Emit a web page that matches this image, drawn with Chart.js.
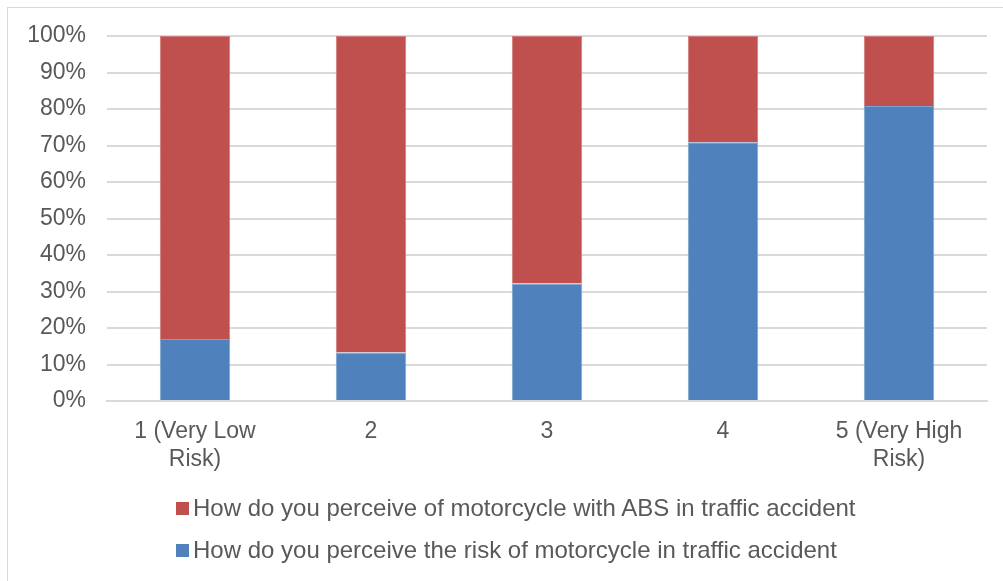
<!DOCTYPE html>
<html>
<head>
<meta charset="utf-8">
<script src="https://cdn.jsdelivr.net/npm/chart.js@4/dist/chart.umd.min.js"></script>
<style>
  html, body { margin: 0; padding: 0; background: #fff; }
  #wrap { position: relative; width: 1003px; height: 581px; overflow: hidden; }
  #frame { position: absolute; left: 7px; top: 7px; width: 1010px; height: 590px; border: 1px solid #d9d9d9; box-sizing: border-box; }
  canvas { position: absolute; left: 0; top: 0; }
  #legend { position: absolute; left: 176px; top: 493px; font-family: "Liberation Sans", Arial, sans-serif; font-size: 24px; color: #595959; }
  .item { display: flex; align-items: center; height: 30px; margin-bottom: 12px; white-space: nowrap; }
  .sw { width: 13px; height: 13px; margin-right: 4px; flex: none; }
</style>
</head>
<body>
<div id="wrap">
  <div id="frame"></div>
  <canvas id="c" width="1003" height="581"></canvas>
  <div id="legend"></div>
</div>
<script>
const categories = [["1 (Very Low", "Risk)"], "2", "3", "4", ["5 (Very High", "Risk)"]];
const riskValues = [17.0, 13.3, 32.2, 70.9, 80.8];
const absValues = [83.0, 86.7, 67.8, 29.1, 19.2];
const seriesNames = [
  "How do you perceive of motorcycle with ABS in traffic accident",
  "How do you perceive the risk of motorcycle in traffic accident"
];
const seriesColors = ["#C0504D", "#4F81BD"];
const yTicks = [0, 10, 20, 30, 40, 50, 60, 70, 80, 90, 100];

const font = { family: "'Liberation Sans', Arial, sans-serif", size: 23, lineHeight: 1.2 };

new Chart(document.getElementById('c'), {
  type: 'bar',
  data: {
    labels: categories,
    datasets: [
      { label: seriesNames[1], data: riskValues, backgroundColor: seriesColors[1], borderColor: '#7fa3d0', borderWidth: 1, barPercentage: 0.8, categoryPercentage: 0.5 },
      { label: seriesNames[0], data: absValues, backgroundColor: seriesColors[0], borderColor: '#d07c79', borderWidth: 1, barPercentage: 0.8, categoryPercentage: 0.5 }
    ]
  },
  options: {
    responsive: false,
    animation: false,
    layout: { padding: { left: 8, right: 16, top: 36, bottom: 110 } },
    plugins: { legend: { display: false }, tooltip: { enabled: false } },
    scales: {
      x: {
        stacked: true,
        grid: { display: false, drawTicks: false },
        border: { display: true, color: '#d9d9d9', width: 2 },
        ticks: { color: '#595959', font: font, padding: 17, maxRotation: 0, autoSkip: false },
        afterFit: s => { s.height = 70; }
      },
      y: {
        stacked: true,
        min: 0, max: 100,
        afterBuildTicks: s => { s.ticks = yTicks.map(v => ({ value: v })); },
        grid: { color: '#d9d9d9', lineWidth: 2, drawTicks: false },
        border: { display: false },
        ticks: { color: '#595959', font: font, padding: 21, callback: v => v + '%' },
        afterFit: s => { s.width = 99; }
      }
    }
  }
});

const lg = document.getElementById('legend');
seriesNames.forEach((n, i) => {
  const d = document.createElement('div');
  d.className = 'item';
  const sw = document.createElement('span');
  sw.className = 'sw';
  sw.style.background = seriesColors[i];
  const t = document.createElement('span');
  t.textContent = n;
  d.appendChild(sw); d.appendChild(t);
  lg.appendChild(d);
});
</script>
</body>
</html>
